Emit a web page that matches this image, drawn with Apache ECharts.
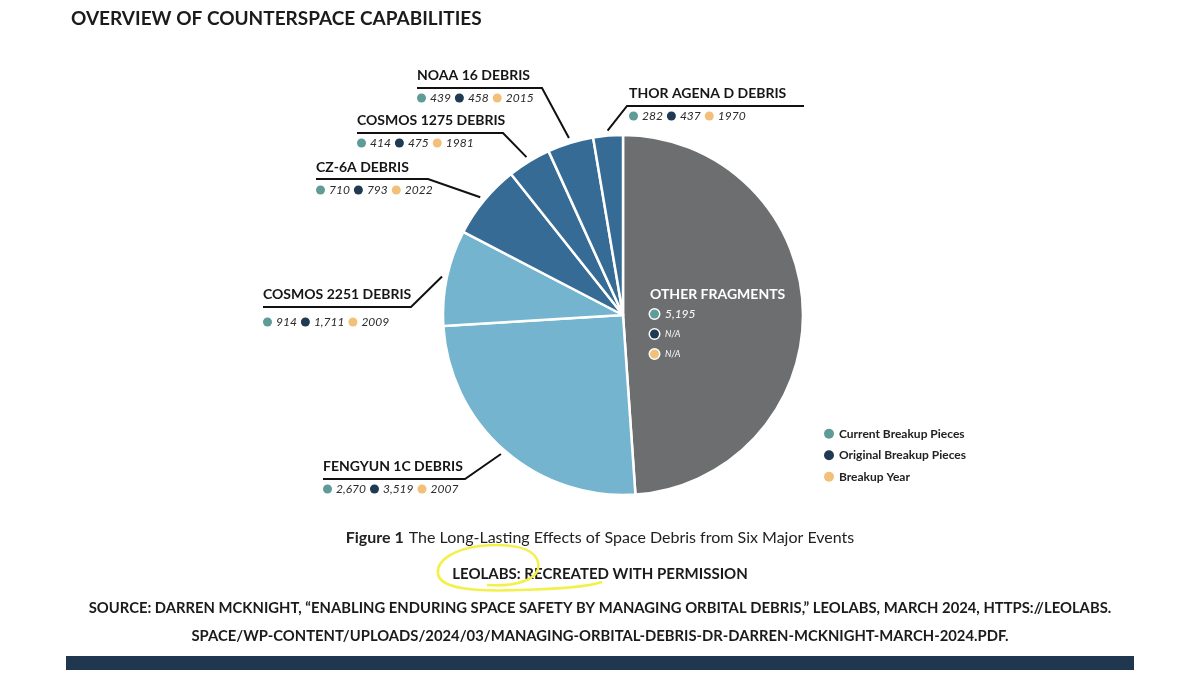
<!DOCTYPE html>
<html>
<head>
<meta charset="utf-8">
<script src="https://cdn.jsdelivr.net/npm/echarts@6/dist/echarts.min.js"></script>
<style>
html,body{margin:0;padding:0;background:#fff;}
#chart{width:1200px;height:675px;}
</style>
</head>
<body>
<div id="chart"></div>
<script>
// ---- data ----
const names = ['OTHER FRAGMENTS', 'FENGYUN 1C DEBRIS', 'COSMOS 2251 DEBRIS', 'CZ-6A DEBRIS', 'COSMOS 1275 DEBRIS', 'NOAA 16 DEBRIS', 'THOR AGENA D DEBRIS'];
const currentPieces = [5195, 2670, 914, 710, 414, 439, 282];
const originalPieces = [null, 3519, 1711, 793, 475, 458, 437];
const breakupYear = [null, 2007, 2009, 2022, 1981, 2015, 1970];
const legendItems = ['Current Breakup Pieces', 'Original Breakup Pieces', 'Breakup Year'];

// ---- style ----
const sliceColors = ['#6c6e6f', '#74b4cf', '#74b4cf', '#356b94', '#356b94', '#356b94', '#356b94'];
const C_CUR = '#5f9c97', C_ORIG = '#1f3a52', C_YEAR = '#f2c078';
const CX = 623, CY = 315, R = 180;
const FONT = 'Lato, "Open Sans", sans-serif';

// label placement (style only)
const labelPos = [
  {x: 650, y: 284},
  {x: 323, y: 454.5, elbow: [465, 479], end: [323, 479]},
  {x: 263, y: 282.5, elbow: [411, 307], end: [263, 307], wide: true},
  {x: 316, y: 155.5, elbow: [428, 179], end: [316, 179]},
  {x: 357, y: 108.5, elbow: [503, 133], end: [357, 133]},
  {x: 417, y: 63.5, elbow: [542, 88], end: [417, 88]},
  {x: 629, y: 81.5, elbow: [627, 106], end: [804, 106]}
];

const fmt = v => (v == null ? 'N/A' : Number(v).toLocaleString('en-US'));
const fmtYear = v => (v == null ? 'N/A' : String(v));

const total = currentPieces.reduce((a, b) => a + b, 0);
function midPoint(i, rr) {
  let cum = 0;
  for (let k = 0; k < i; k++) cum += currentPieces[k];
  const ang = (cum + currentPieces[i] / 2) / total * Math.PI * 2;
  return [CX + rr * Math.sin(ang), CY - rr * Math.cos(ang)];
}

const dot = (c, border, lh) => ({
  width: 9, height: 9, borderRadius: 5, backgroundColor: c,
  borderColor: border ? '#fff' : c, borderWidth: border ? 1.5 : 0, lineHeight: lh
});
const valStyle = lh => ({fontFamily: FONT, fontStyle: 'italic', fontWeight: 'normal', fontSize: 12, color: '#2b2b2b', lineHeight: lh, padding: [0, 4, 0, 4]});

const rich = {
  t: {fontFamily: FONT, fontWeight: 'bold', fontSize: 14, color: '#161616', lineHeight: 23},
  c: dot(C_CUR, false, 23), o: dot(C_ORIG, false, 23), y: dot(C_YEAR, false, 23), v: valStyle(23),
  cw: dot(C_CUR, false, 33), ow: dot(C_ORIG, false, 33), yw: dot(C_YEAR, false, 33), vw: valStyle(33),
  ot: {fontFamily: FONT, fontWeight: 'bold', fontSize: 14, color: '#ffffff', lineHeight: 20},
  oc: dot(C_CUR, true, 20),
  oo: dot(C_ORIG, true, 20),
  oy: dot(C_YEAR, true, 20),
  ov: {fontFamily: FONT, fontStyle: 'italic', fontWeight: 'normal', fontSize: 12, color: '#ffffff', lineHeight: 20, padding: [0, 0, 0, 6]},
  on: {fontFamily: FONT, fontStyle: 'italic', fontWeight: 'normal', fontSize: 9, color: '#ffffff', lineHeight: 20, padding: [0, 0, 0, 6]}
};

function labelFormatter(p) {
  const i = p.dataIndex;
  if (i === 0) {
    return '{ot|' + names[i] + '}\n{oc|}{ov|' + fmt(currentPieces[i]) + '}\n{oo|}{on|' +
      fmt(originalPieces[i]) + '}\n{oy|}{on|' + fmtYear(breakupYear[i]) + '}';
  }
  const s = labelPos[i].wide ? 'w' : '';
  return '{t|' + names[i] + '}\n{c' + s + '|}{v' + s + '|' + fmt(currentPieces[i]) + '}{o' + s + '|}{v' + s + '|' +
    fmt(originalPieces[i]) + '}{y' + s + '|}{v' + s + '|' + fmtYear(breakupYear[i]) + '}';
}

const chart = echarts.init(document.getElementById('chart'), null, {renderer: 'canvas'});

const legendText = legendItems.map((n, k) => '{d' + k + '|}{l|' + n + '}').join('\n');
const HL = '#f4f04a';

chart.setOption({
  backgroundColor: '#ffffff',
  animation: false,
  title: [
    {text: 'OVERVIEW OF COUNTERSPACE CAPABILITIES', left: 66, top: 4,
      textStyle: {fontFamily: FONT, fontWeight: 'bold', fontSize: 19, color: '#1b1b1b'}},
    {text: legendText, left: 819, top: 418,
      textStyle: {rich: {
        d0: {width: 10, height: 10, borderRadius: 5, backgroundColor: C_CUR, lineHeight: 21.5},
        d1: {width: 10, height: 10, borderRadius: 5, backgroundColor: C_ORIG, lineHeight: 21.5},
        d2: {width: 10, height: 10, borderRadius: 5, backgroundColor: C_YEAR, lineHeight: 21.5},
        l: {fontFamily: FONT, fontWeight: 'bold', fontSize: 12, color: '#222', lineHeight: 21.5, padding: [0, 0, 0, 5]}
      }}},
    {text: '{b|Figure 1} {r|The Long-Lasting Effects of Space Debris from Six Major Events}', left: 'center', top: 524,
      textStyle: {rich: {
        b: {fontFamily: FONT, fontWeight: 'bold', fontSize: 16, color: '#222'},
        r: {fontFamily: FONT, fontWeight: 'normal', fontSize: 16, color: '#222'}
      }}},
    {text: 'LEOLABS: RECREATED WITH PERMISSION', left: 'center', top: 562,
      textStyle: {fontFamily: FONT, fontWeight: 'bold', fontSize: 15, color: '#1b1b1b'}},
    {text: 'SOURCE: DARREN MCKNIGHT, \u201CENABLING ENDURING SPACE SAFETY BY MANAGING ORBITAL DEBRIS,\u201D LEOLABS, MARCH 2024, HTTPS://LEOLABS.',
      left: 'center', top: 596,
      textStyle: {fontFamily: FONT, fontWeight: 'bold', fontSize: 14.8, color: '#1b1b1b'}},
    {text: 'SPACE/WP-CONTENT/UPLOADS/2024/03/MANAGING-ORBITAL-DEBRIS-DR-DARREN-MCKNIGHT-MARCH-2024.PDF.',
      left: 'center', top: 624,
      textStyle: {fontFamily: FONT, fontWeight: 'bold', fontSize: 14.8, color: '#1b1b1b'}}
  ],
  graphic: [
    {type: 'rect', shape: {x: 66, y: 656, width: 1068, height: 14}, style: {fill: '#1f3850'}, silent: true},
    {type: 'bezierCurve', silent: true, z: 100,
      shape: {x1: 487, y1: 585, cpx1: 515, cpy1: 587, cpx2: 542, cpy2: 580, x2: 538, y2: 562},
      style: {stroke: HL, lineWidth: 2.5, fill: null}},
    {type: 'bezierCurve', silent: true, z: 100,
      shape: {x1: 538, y1: 562, cpx1: 534, cpy1: 546, cpx2: 505, cpy2: 543, x2: 480, y2: 546},
      style: {stroke: HL, lineWidth: 2.5, fill: null}},
    {type: 'bezierCurve', silent: true, z: 100,
      shape: {x1: 480, y1: 546, cpx1: 455, cpy1: 549, cpx2: 436, cpy2: 560, x2: 438, y2: 574},
      style: {stroke: HL, lineWidth: 2.5, fill: null}},
    {type: 'bezierCurve', silent: true, z: 100,
      shape: {x1: 438, y1: 574, cpx1: 440, cpy1: 588, cpx2: 470, cpy2: 592, x2: 520, y2: 590},
      style: {stroke: HL, lineWidth: 2.5, fill: null}},
    {type: 'bezierCurve', silent: true, z: 100,
      shape: {x1: 520, y1: 590, cpx1: 560, cpy1: 589, cpx2: 590, cpy2: 586, x2: 602, y2: 582},
      style: {stroke: HL, lineWidth: 2.5, fill: null}}
  ],
  series: [{
    type: 'pie',
    center: [CX, CY],
    radius: R,
    startAngle: 90,
    clockwise: true,
    avoidLabelOverlap: false,
    silent: true,
    itemStyle: {borderColor: '#ffffff', borderWidth: 2.5},
    label: {show: true, formatter: labelFormatter, rich: rich},
    labelLine: {show: true, lineStyle: {color: '#111', width: 2}},
    labelLayout: function (p) {
      const pos = labelPos[p.dataIndex];
      const res = {x: pos.x, y: pos.y, align: 'left', verticalAlign: 'top'};
      if (pos.elbow) {
        res.labelLinePoints = [midPoint(p.dataIndex, R + 5), pos.elbow, pos.end];
      }
      return res;
    },
    data: names.map((n, i) => ({
      name: n,
      value: currentPieces[i],
      itemStyle: {color: sliceColors[i]},
      labelLine: {show: i !== 0}
    }))
  }]
});
</script>
</body>
</html>
